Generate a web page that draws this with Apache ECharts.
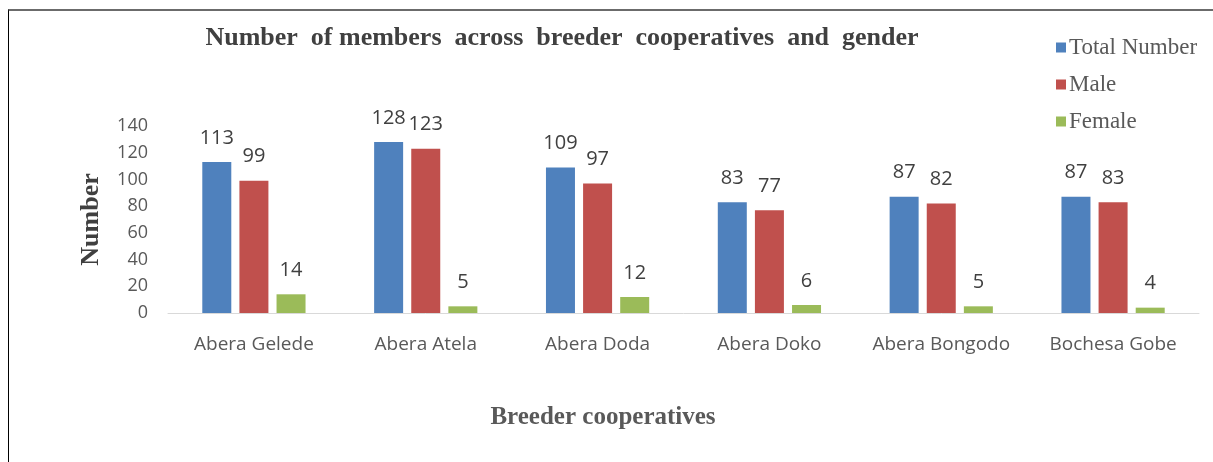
<!DOCTYPE html>
<html>
<head>
<meta charset="utf-8">
<script src="https://cdn.jsdelivr.net/npm/echarts@6/dist/echarts.min.js"></script>
<style>
html,body{margin:0;padding:0;background:#fff;}
#frame{position:absolute;left:8px;top:9px;width:1205px;height:453px;border-top:2px solid #6b6b6b;border-left:1px solid #000;box-sizing:border-box;pointer-events:none;}
#chart{position:absolute;left:0;top:0;width:1213px;height:462px;}
</style>
</head>
<body>
<div id="chart"></div>
<div id="frame"></div>
<script>
const categories = ['Abera Gelede','Abera Atela','Abera Doda','Abera Doko','Abera Bongodo','Bochesa Gobe'];
const totalNumber = [113,128,109,83,87,87];
const male = [99,123,97,77,82,83];
const female = [14,5,12,6,5,4];
const seriesNames = ['Total Number','Male','Female'];
const yTicks = {min:0,max:140,interval:20};

const chart = echarts.init(document.getElementById('chart'));
const sans = '"Open Sans", "Liberation Sans", sans-serif';
const serif = '"Liberation Serif", "Times New Roman", serif';
const labelStyle = {show:true,position:'top',distance:14,color:'#404040',fontSize:20,fontFamily:sans};
function mk(name,data,color){
  return {name,type:'bar',data,barWidth:29,barGap:'28%',itemStyle:{color},label:labelStyle};
}
chart.setOption({
  animation:false,
  title:[
    {text:'Number  of members  across  breeder  cooperatives  and  gender',left:557,top:20,textAlign:'center',
      textStyle:{fontFamily:serif,fontWeight:'bold',fontSize:26,color:'#404040'}},
    {text:'Breeder cooperatives',left:598,top:400,textAlign:'center',
      textStyle:{fontFamily:serif,fontWeight:'bold',fontSize:25,color:'#595959'}}
  ],
  legend:{orient:'vertical',left:1051,top:31,itemWidth:10,itemHeight:10,itemGap:14,icon:'rect',
    textStyle:{fontFamily:serif,fontSize:23,lineHeight:23,color:'#595959',padding:[0,0,0,-2]},data:seriesNames},
  grid:{left:168,right:14,top:126,bottom:149},
  xAxis:{type:'category',data:categories,
    axisLine:{lineStyle:{color:'#d9d9d9'}},axisTick:{show:false},
    axisLabel:{color:'#595959',fontSize:19,fontFamily:sans,margin:22,interval:0}},
  yAxis:{type:'value',min:yTicks.min,max:yTicks.max,interval:yTicks.interval,
    splitLine:{show:false},axisLine:{show:false},axisTick:{show:false},
    axisLabel:{color:'#595959',fontSize:18,fontFamily:sans,margin:20},
    name:'Number',nameLocation:'middle',nameGap:64,nameRotate:90,
    nameTextStyle:{fontFamily:serif,fontWeight:'bold',fontSize:26,color:'#404040'}},
  series:[mk(seriesNames[0],totalNumber,'#4f81bd'),mk(seriesNames[1],male,'#c0504d'),mk(seriesNames[2],female,'#9bbb59')]
});
</script>
</body>
</html>
